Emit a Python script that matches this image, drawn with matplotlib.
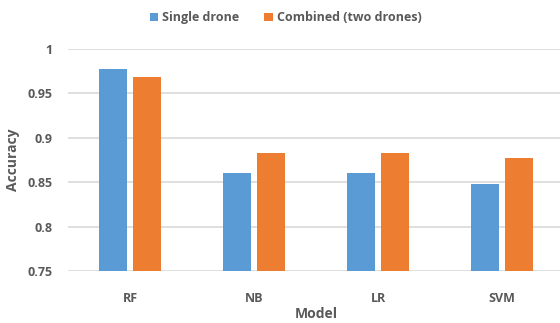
import matplotlib.pyplot as plt
import numpy as np
from matplotlib.ticker import FuncFormatter

models = ['RF', 'NB', 'LR', 'SVM']
single_drone = [0.978, 0.860, 0.860, 0.848]
combined = [0.969, 0.883, 0.883, 0.877]

plt.rcParams['font.family'] = ['Open Sans', 'DejaVu Sans']
grey = '#595959'

fig = plt.figure(figsize=(5.6, 3.23), dpi=100)
ax = fig.add_axes([68 / 560, 1 - 271 / 323, 496 / 560, 222 / 323])

x = np.arange(len(models))
w = 0.222
gap = 0.056
ax.bar(x - (w + gap) / 2, single_drone, w, color='#5B9BD5', label='Single drone', zorder=3)
ax.bar(x + (w + gap) / 2, combined, w, color='#ED7D31', label='Combined (two drones)', zorder=3)

ax.set_xlim(-0.5, len(models) - 0.5)
ax.set_ylim(0.75, 1.0)
ax.set_yticks([0.75, 0.8, 0.85, 0.9, 0.95, 1.0])
ax.yaxis.set_major_formatter(FuncFormatter(lambda v, p: '{:g}'.format(round(v, 2))))
ax.set_xticks(x)
ax.set_xticklabels(models)

ax.grid(axis='y', color='#D9D9D9', linewidth=1.2, zorder=0)
ax.tick_params(axis='both', length=0, colors=grey, labelsize=9)
ax.tick_params(axis='x', pad=15)
ax.tick_params(axis='y', pad=11)
for lab in ax.get_xticklabels() + ax.get_yticklabels():
    lab.set_fontweight('bold')
for s in ax.spines.values():
    s.set_visible(False)

fig.text(13 / 560, 1 - 160 / 323, 'Accuracy', rotation=90, ha='center', va='center',
         color=grey, fontsize=10, fontweight='bold')
fig.text(316 / 560, 1 - 314 / 323, 'Model', ha='center', va='center',
         color=grey, fontsize=10, fontweight='bold')

leg = fig.legend(loc='upper center', bbox_to_anchor=(0.51, 1.0), ncol=2, frameon=False,
                 fontsize=9, handlelength=0.7, handleheight=0.7, handletextpad=0.3,
                 columnspacing=2.0)
for t in leg.get_texts():
    t.set_color(grey)
    t.set_fontweight('bold')

fig.savefig('out.png', dpi=100)
